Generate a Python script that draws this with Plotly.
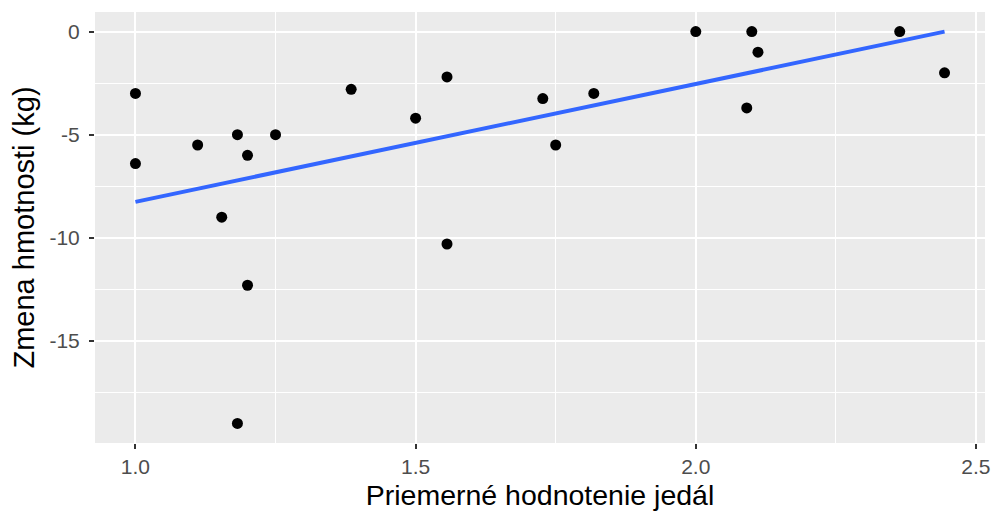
import numpy as np
import plotly.graph_objects as go

rating = [1.0, 1.0, 1.111, 1.154, 1.182, 1.182, 1.2, 1.2, 1.25, 1.385, 1.5,
          1.556, 1.556, 1.727, 1.75, 1.818, 2.0, 2.091, 2.1, 2.111, 2.364, 2.444]
weight_change = [-3.0, -6.4, -5.5, -9.0, -5.0, -19.0, -6.0, -12.3, -5.0, -2.8, -4.2,
                 -2.2, -10.3, -3.25, -5.5, -3.0, 0.0, -3.7, 0.0, -1.0, 0.0, -2.0]

x_ticks = [1.0, 1.5, 2.0, 2.5]
x_tick_labels = ["1.0", "1.5", "2.0", "2.5"]
y_ticks = [0, -5, -10, -15]
y_tick_labels = ["0", "-5", "-10", "-15"]

xa = np.array(rating)
ya = np.array(weight_change)
slope, intercept = np.polyfit(xa, ya, 1)
fx = np.array([xa.min(), xa.max()])
fy = slope * fx + intercept

fig = go.Figure()
fig.add_trace(go.Scatter(x=xa, y=ya, mode="markers",
                         marker=dict(color="black", size=11), hoverinfo="x+y"))
fig.add_trace(go.Scatter(x=fx, y=fy, mode="lines",
                         line=dict(color="#3366FF", width=4)))

xr = xa.max() - xa.min()
yr = ya.max() - ya.min()
fig.update_layout(
    width=995, height=513,
    margin=dict(l=95, r=10, t=12, b=70),
    paper_bgcolor="white", plot_bgcolor="#EBEBEB",
    showlegend=False,
    font=dict(family="Liberation Sans, Arial, sans-serif"),
    xaxis=dict(range=[xa.min() - 0.05 * xr, xa.max() + 0.05 * xr],
               tickvals=x_ticks, ticktext=x_tick_labels, automargin=False,
               showgrid=True, gridcolor="white", gridwidth=2.2,
               minor=dict(dtick=0.25, tick0=1.0, showgrid=True, gridcolor="white", gridwidth=1.1, ticks=""),
               zeroline=False, showline=False,
               ticks="outside", ticklen=5, tickcolor="#333333", tickwidth=2,
               tickfont=dict(size=21, color="#4D4D4D"),
               title=dict(text="Priemerné hodnotenie jedál", font=dict(size=28.5, color="black"), standoff=7)),
    yaxis=dict(range=[ya.min() - 0.05 * yr, ya.max() + 0.05 * yr],
               tickvals=y_ticks, ticktext=y_tick_labels, automargin=False,
               ticklabelstandoff=5,
               showgrid=True, gridcolor="white", gridwidth=2.2,
               minor=dict(dtick=2.5, tick0=0, showgrid=True, gridcolor="white", gridwidth=1.1, ticks=""),
               zeroline=False, showline=False,
               ticks="outside", ticklen=5, tickcolor="#333333", tickwidth=2,
               tickfont=dict(size=21, color="#4D4D4D"),
               title=dict(text="Zmena hmotnosti (kg)", font=dict(size=29, color="black"), standoff=6)),
)
fig.write_html("out.html", config={"displayModeBar": False},
               post_script="document.body.style.margin='0';document.body.style.overflow='hidden';")
